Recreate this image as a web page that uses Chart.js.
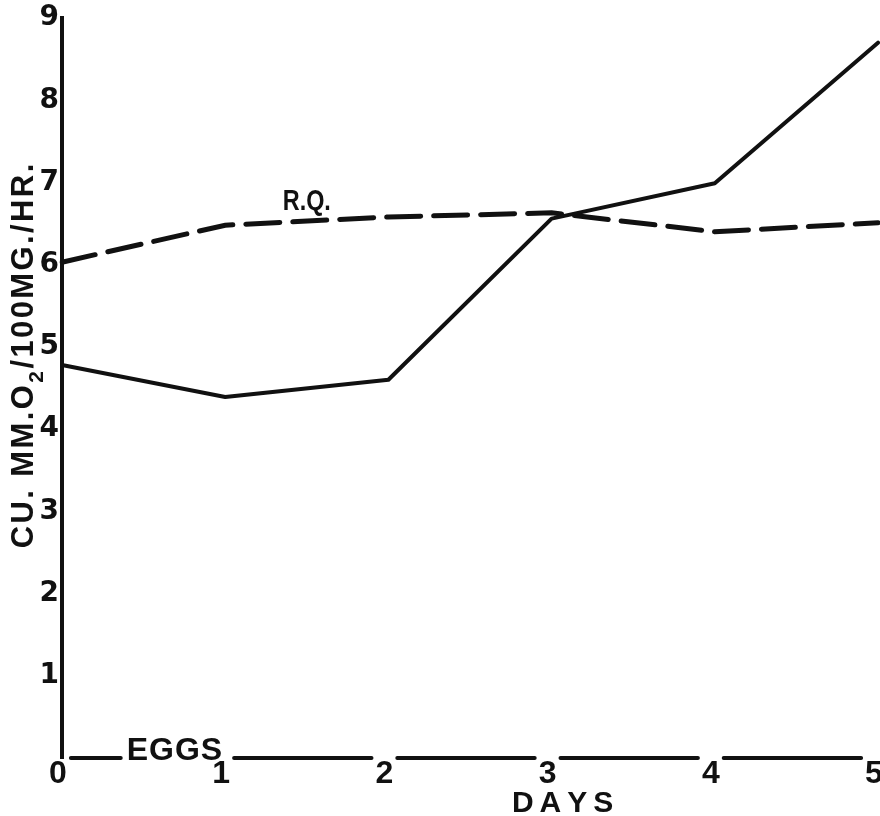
<!DOCTYPE html>
<html>
<head>
<meta charset="utf-8">
<title>O2 consumption and R.Q.</title>
<script src="https://cdn.jsdelivr.net/npm/chart.js@4"></script>
<style>
  html, body { margin: 0; padding: 0; background: #fff; }
  #wrap { width: 880px; height: 816px; }
</style>
</head>
<body>
<div id="wrap"><canvas id="chart"></canvas></div>
<script>
// data ----------------------------------------------------------
const days   = ["0", "1", "2", "3", "4", "5"];
const oxygen = [4.78, 4.39, 4.60, 6.56, 6.99, 8.70];  // cu. mm O2 / 100 mg / hr
const rq     = [6.03, 6.48, 6.58, 6.63, 6.40, 6.51];  // R.Q. curve, as drawn on the same scale
const yTicks = [1, 2, 3, 4, 5, 6, 7, 8, 9];

const ink = "#111";
const xLabelShift = -4;

// helpers -------------------------------------------------------
function spacedWidth(ctx, text, gap) {
  let w = 0;
  for (const ch of text) w += ctx.measureText(ch).width;
  return w + gap * (text.length - 1);
}
function drawSpaced(ctx, text, x, y, gap) {
  for (const ch of text) {
    ctx.fillText(ch, x, y);
    x += ctx.measureText(ch).width + gap;
  }
}

// hand lettering: broken x axis, EGGS, DAYS, R.Q. and the y title
const decor = {
  id: "decor",
  afterDraw(chart) {
    const { ctx, chartArea: area, scales: { x, y } } = chart;
    ctx.save();
    ctx.fillStyle = ink;
    ctx.strokeStyle = ink;
    ctx.textAlign = "left";
    ctx.textBaseline = "alphabetic";

    // where the day numbers sit, so the axis line can stop at them
    ctx.font = "bold 32px 'Liberation Sans'";
    const lab = days.map((d, i) => {
      const c = x.getPixelForValue(i) + xLabelShift;
      const h = ctx.measureText(d).width / 2;
      return [c - h, c + h];
    });

    // EGGS, just above the line between 0 and 1
    const eggsW = spacedWidth(ctx, "EGGS", 1);
    const eggsR = x.getPixelForValue(1) - 3;
    drawSpaced(ctx, "EGGS", eggsR - eggsW, area.bottom + 2, 1);

    ctx.lineWidth = 4;
    ctx.lineCap = "round";
    ctx.beginPath();
    for (let i = 0; i < days.length - 1; i++) {
      const from = lab[i][1] + 4;
      const to = i === 0 ? eggsR - eggsW - 6 : lab[i + 1][0] - 4;
      ctx.moveTo(from, area.bottom);
      ctx.lineTo(to, area.bottom);
    }
    ctx.stroke();

    // DAYS
    ctx.font = "bold 30px 'Liberation Sans'";
    const daysW = spacedWidth(ctx, "DAYS", 6);
    drawSpaced(ctx, "DAYS", x.getPixelForValue(3) + 11 - daysW / 2, area.bottom + 54, 6);

    // R.Q. over the dashed curve
    ctx.save();
    ctx.translate(x.getPixelForValue(1.5), y.getPixelForValue(6.67));
    ctx.scale(0.78, 1);
    ctx.textAlign = "center";
    ctx.fillText("R.Q.", 0, 0);
    ctx.restore();

    // y title with the subscript 2
    const parts = [
      { t: "CU. MM.O", f: "bold 31px 'Liberation Sans'", dy: 0 },
      { t: "2", f: "bold 21px 'Liberation Sans'", dy: 10 },
      { t: "/100MG./HR.", f: "bold 31px 'Liberation Sans'", dy: 0 }
    ];
    const gap = 2.4;
    let total = gap * (parts.length - 1);
    parts.forEach(p => { ctx.font = p.f; p.w = spacedWidth(ctx, p.t, gap); total += p.w; });
    ctx.translate(area.left - 29, (area.top + area.bottom) / 2 - 32);
    ctx.rotate(-Math.PI / 2);
    let cx = -total / 2;
    parts.forEach(p => {
      ctx.font = p.f;
      drawSpaced(ctx, p.t, cx, p.dy, gap);
      cx += p.w + gap;
    });

    ctx.restore();
  }
};

// chart ---------------------------------------------------------
new Chart(document.getElementById("chart"), {
  type: "line",
  data: {
    labels: days,
    datasets: [
      {
        label: "O2",
        data: oxygen,
        borderColor: ink,
        borderWidth: 4,
        borderJoinStyle: "round",
        borderCapStyle: "round",
        pointRadius: 0,
        tension: 0
      },
      {
        label: "R.Q.",
        data: rq,
        borderColor: ink,
        borderWidth: 5,
        borderDash: [34, 13],
        borderCapStyle: "round",
        pointRadius: 0,
        tension: 0
      }
    ]
  },
  options: {
    responsive: true,
    maintainAspectRatio: false,
    animation: false,
    layout: { padding: { top: 18, right: 2, bottom: 0, left: 0 } },
    plugins: { legend: { display: false }, tooltip: { enabled: false } },
    scales: {
      x: {
        grid: { display: false, drawTicks: false },
        border: { display: false },
        ticks: {
          color: ink,
          font: { family: "Liberation Sans", size: 32, weight: "bold", lineHeight: 1 },
          padding: 0,
          labelOffset: xLabelShift,
          maxRotation: 0,
          autoSkip: false
        },
        afterFit: s => { s.height = 58; s.paddingLeft = 0; s.paddingRight = 0; }
      },
      y: {
        min: 0,
        max: 9,
        afterBuildTicks: s => { s.ticks = yTicks.map(v => ({ value: v })); },
        grid: { display: false, drawTicks: false },
        border: { display: true, color: ink, width: 4 },
        ticks: {
          color: ink,
          font: { family: "DejaVu Sans", size: 28, weight: "bold" },
          padding: 3
        },
        afterFit: s => { s.width = 62; s.paddingTop = 0; s.paddingBottom = 0; }
      }
    }
  },
  plugins: [decor]
});
</script>
</body>
</html>
